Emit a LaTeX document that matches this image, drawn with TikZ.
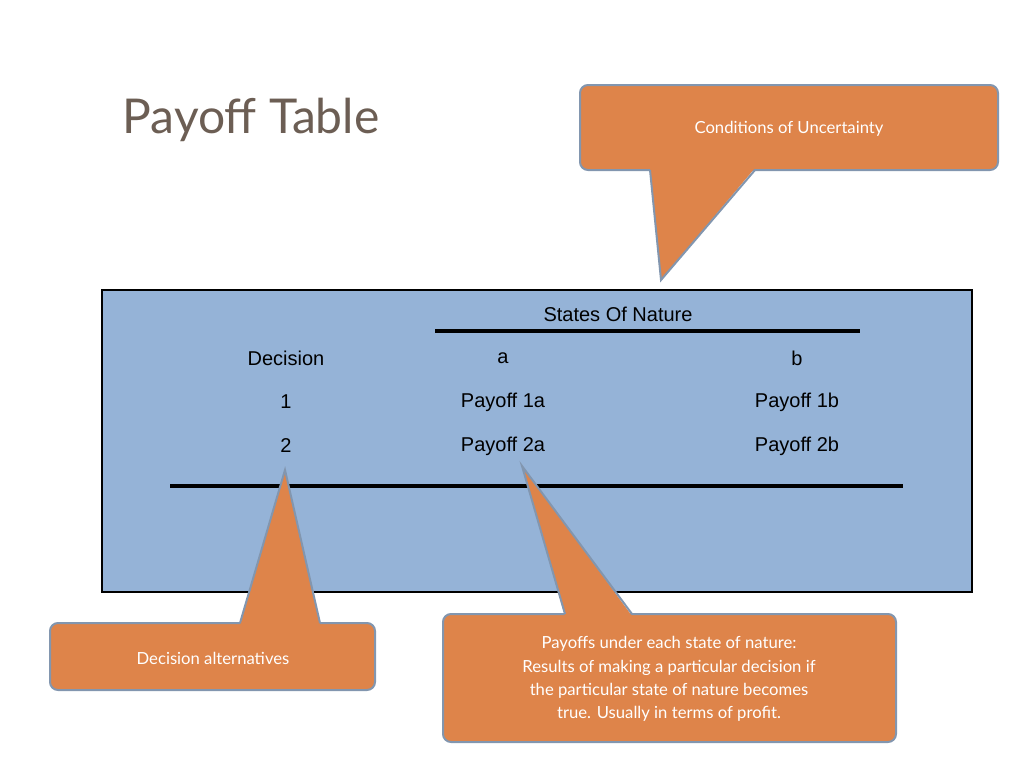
\documentclass[tikz,border=0pt]{standalone}
\usepackage{fontspec}
\setmainfont{Liberation Sans}
\newfontfamily\calloutfont{Lato}
\definecolor{boxblue}{RGB}{149,179,215}
\definecolor{calloutfill}{RGB}{222,132,74}
\definecolor{calloutedge}{RGB}{130,150,175}
\definecolor{titlebrown}{RGB}{108,94,84}
\tikzset{
  cell/.style={font=\fontsize{15}{18}\selectfont},
  callout/.style={fill=calloutfill,draw=calloutedge,line width=1.5pt,rounded corners=6pt},
  callouttext/.style={text=white,font=\calloutfont\fontsize{12.5}{17.5}\selectfont,align=center}
}
\begin{document}
\begin{tikzpicture}[x=0.75pt,y=-0.75pt]
\useasboundingbox (0,0) rectangle (1024,768);
%title
\node[anchor=west,text=titlebrown,font=\calloutfont\fontsize{36}{40}\selectfont] (title) at (118,120) {Payoff Table};
%table
\draw[fill=boxblue,line width=1.2pt] (102,290) rectangle (972,592);
\draw[line width=3pt] (435,331) -- (860,331);
\draw[line width=3pt] (170,486) -- (903,486);
\node[cell] (states) at (618,314) {States Of Nature};
\node[cell] (dec) at (286,358) {Decision};
\node[cell] (cola) at (503,358) {a};
\node[cell] (colb) at (797,358) {b};
\node[cell] (rowone) at (286,402) {1};
\node[cell] (oneA) at (503,402) {Payoff 1a};
\node[cell] (oneB) at (797,402) {Payoff 1b};
\node[cell] (rowtwo) at (286,446) {2};
\node[cell] (twoA) at (503,446) {Payoff 2a};
\node[cell] (twoB) at (797,446) {Payoff 2b};
%callout uncertainty
\draw[callout] (580,85) rectangle (998,170);
\fill[calloutfill] (650,168) -- (661,280) -- (755,168) -- cycle;
\draw[calloutedge,line width=1.5pt] (650,170) -- (661,280) -- (755,170);
\node[callouttext] (cond) at (789,129) {Conditions of Uncertainty};
%callout alternatives
\draw[callout] (50,623) rectangle (375,690);
\fill[calloutfill] (240,625) -- (285,470) -- (320,625) -- cycle;
\draw[calloutedge,line width=1.5pt] (240,623) -- (285,470) -- (320,623);
\node[callouttext] (alt) at (213,658) {Decision alternatives};
%callout payoffs
\draw[callout] (443,614) rectangle (896,742);
\fill[calloutfill] (565,616) -- (522,466) -- (632,616) -- cycle;
\draw[calloutedge,line width=1.5pt] (565,614) -- (522,466) -- (632,614);
\node[callouttext] (pay) at (669,679) {Payoffs under each state of nature:\\Results of making a particular decision if\\the particular state of nature becomes\\true. Usually in terms of profit.};
\end{tikzpicture}
\end{document}
